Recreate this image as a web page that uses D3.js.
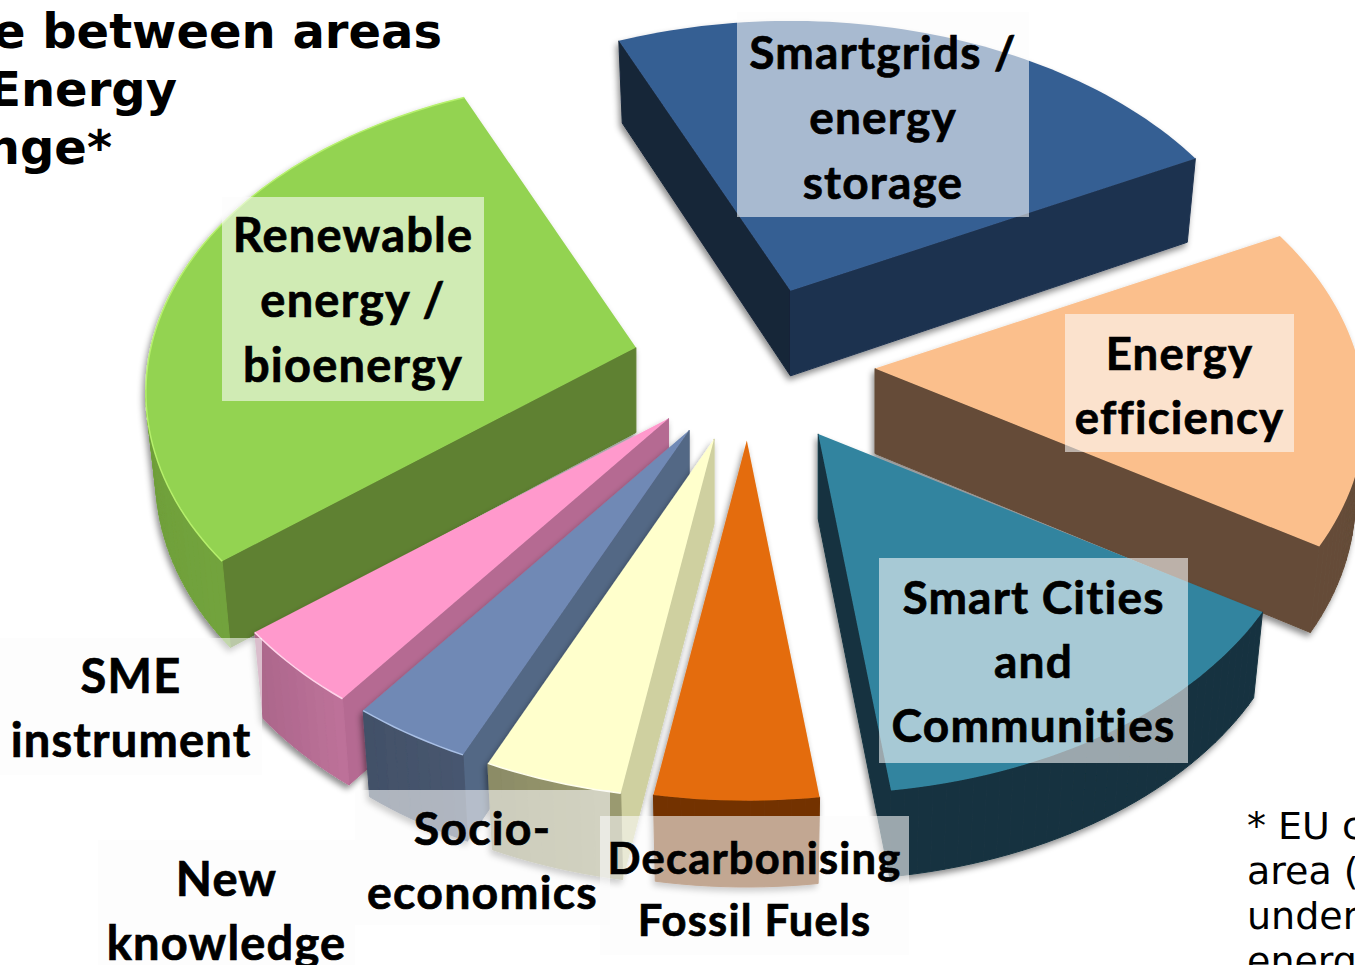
<!DOCTYPE html>
<html>
  <head>
    <meta charset="utf-8">
    <script src="https://d3js.org/d3.v7.min.js"></script>
    <style type="text/css">
      html, body { margin: 0; padding: 0; background: #fff; overflow: hidden; }
      svg { display: block; }
      .lbl { font-family: Lato, sans-serif; font-weight: 700; letter-spacing: 1.2px; fill: #000; stroke: #000; stroke-width: 0.7px; text-anchor: middle; }
      .title { font-family: "DejaVu Sans", sans-serif; font-weight: 700; font-size: 48px; fill: #000; text-anchor: end; }
      .note { font-family: "DejaVu Sans", sans-serif; font-size: 38px; fill: #000; }
    </style>
  </head>
  <body>
    <div class="plot_canvas"></div>
    <script>
      // data, in pie order (clockwise)
      var categories = ["Smartgrids / energy storage", "Energy efficiency", "Smart Cities and Communities",
        "Decarbonising Fossil Fuels", "Socio-economics", "New knowledge", "SME instrument", "Renewable energy / bioenergy"];
      var shares = [24, 16.5, 14, 4.7, 4, 3.5, 4, 29.3];
      var explode = [0.255, 0.26, 0.265, 0.245, 0.25, 0.245, 0.24, 0.24];
      var labelLines = [["Smartgrids /", "energy", "storage"], ["Energy", "efficiency"], ["Smart Cities", "and", "Communities"],
        ["Decarbonising", "Fossil Fuels"], ["Socio-", "economics"], ["New", "knowledge"], ["SME", "instrument"], ["Renewable", "energy /", "bioenergy"]];

      // styles
      var topCol = ["#365f93", "#fbbf8c", "#31849f", "#e46c0a", "#ffffcc", "#7089b5", "#ff99cc", "#93d351"];
      var startWallCol = ["#172639", "#654c38", "#143340", "#733304", "#cfd0a0", "#536785", "#b56b92", "#5f8130"];
      var arcWallCol = ["#1f3350", "#654c38", "#143340", "#733304", "#9a9a70", "#47566f", "#bd7199", "#72a33c"];
      var endWallCol = ["#1f3350", "#654c38", "#143340", "#733304", "#cfd0a0", "#536785", "#b56b92", "#5f8130"];
      var rimCol = [null, null, null, null, "#ffffee", "#a9c0e6", "#ffd4ea", "#b6f06c"];
      var arcDarken = [0, 0, 0, 0, 0.3, 0.2, 0.3, 0.3];
      var labelSize = [46, 45.5, 46, 43.5, 46.5, 47, 47, 47];
      // label boxes: x, y, w, h, first baseline, line step
      var labelBox = [
        [737, 12, 292, 205, 69, 65], [1065, 314, 229, 138, 370, 64], [879, 558, 309, 205, 614, 64],
        [600, 816, 309, 139, 874, 62], [355, 790, 255, 135, 845, 64], [98, 840, 257, 130, 896, 64],
        [0, 638, 262, 137, 693, 64], [222, 197, 262, 204, 252, 65]
      ];
      var drawOrder = [0, 7, 1, 6, 5, 4, 3, 2];

      var width = 1355, height = 965;
      var cx = 749, cy = 365, R = 485, S = 308.6, persp = 0.143, depth = 85;
      var startDeg = -23.6;

      var xScale = d3.scaleLinear().domain([-1, 1]).range([-R, R]);
      var yScale = d3.scaleLinear().domain([-1, 1]).range([-S, S]);

      var pie = d3.pie().sort(null)
        .startAngle(startDeg * Math.PI / 180)
        .endAngle((startDeg + 360) * Math.PI / 180);
      var arcs = pie(shares);

      var svg = d3.select(".plot_canvas").append("svg")
        .attr("width", width).attr("height", height)
        .attr("viewBox", "0 0 " + width + " " + height);

      var filter = svg.append("defs").append("filter").attr("id", "shadow")
        .attr("x", "-10%").attr("y", "-10%").attr("width", "120%").attr("height", "120%");
      filter.append("feDropShadow").attr("dx", -2).attr("dy", 4).attr("stdDeviation", 3)
        .attr("flood-color", "#000").attr("flood-opacity", 0.45);

      var line = d3.line().x(function (d) { return d[0]; }).y(function (d) { return d[1]; });

      // perspective: near edge of the disc is drawn bigger
      function project(a) {
        var X = Math.sin(a), Y = -Math.cos(a), w = 1 - persp * Y;
        return [xScale(X) / w, yScale(Y) / w, Y];
      }

      function slice(i) {
        var d = arcs[i], mid = (d.startAngle + d.endAngle) / 2;
        var apex = [cx + xScale(explode[i] * Math.sin(mid)), cy - yScale(explode[i] * Math.cos(mid))];
        var steps = Math.max(6, Math.round((d.endAngle - d.startAngle) * 40));
        var rim = d3.range(steps + 1).map(function (k) {
          return project(d.startAngle + (d.endAngle - d.startAngle) * k / steps);
        });
        var topPts = rim.map(function (p) { return [apex[0] + p[0], apex[1] + p[1]]; });
        var botPts = rim.map(function (p) {
          return [apex[0] + p[0] * 0.98, apex[1] + p[1] * 0.98 + depth * (1 + 0.1 * p[2])];
        });
        return { apex: apex, top: topPts, bot: botPts, apexBot: [apex[0], apex[1] + depth] };
      }

      drawOrder.forEach(function (i) {
        var s = slice(i);
        var g = svg.append("g").attr("class", "slice").attr("filter", "url(#shadow)");

        // walls, only those turned to the viewer
        function wall(a, b, a2, b2, col) {
          if (b[0] >= a[0]) return;
          g.append("path").attr("d", line([a, b, b2, a2]) + "Z")
            .attr("fill", col).attr("stroke", col).attr("stroke-width", 1);
        }
        wall(s.apex, s.top[0], s.apexBot, s.bot[0], startWallCol[i]);
        var n = s.top.length - 1;
        d3.range(n).forEach(function (k) {
          var col = d3.interpolateRgb(arcWallCol[i], d3.rgb(arcWallCol[i]).darker(arcDarken[i]))(k / n);
          wall(s.top[k], s.top[k + 1], s.bot[k], s.bot[k + 1], col);
        });
        wall(s.top[n], s.apex, s.bot[n], s.apexBot, endWallCol[i]);

        g.append("path").attr("d", line([s.apex].concat(s.top)) + "Z").attr("fill", topCol[i]);
        if (rimCol[i]) {
          g.append("path").attr("d", line(s.top)).attr("fill", "none")
            .attr("stroke", rimCol[i]).attr("stroke-width", 1.5);
        }
      });

      // labels on see-through white boxes
      categories.forEach(function (c, i) {
        var b = labelBox[i];
        svg.append("rect").attr("x", b[0]).attr("y", b[1]).attr("width", b[2]).attr("height", b[3])
          .attr("fill", "#fcfcfc").attr("opacity", 0.58);
      });
      categories.forEach(function (c, i) {
        var b = labelBox[i];
        labelLines[i].forEach(function (t, k) {
          svg.append("text").attr("class", "lbl").style("font-size", labelSize[i] + "px")
            .attr("x", b[0] + b[2] / 2).attr("y", b[4] + k * b[5]).text(t);
        });
      });

      // cropped title and footnote
      var titleLines = ["e between areas", "Energy", "nge*"];
      var titleRight = [442, 177, 112];
      titleLines.forEach(function (t, k) {
        svg.append("text").attr("class", "title").attr("x", titleRight[k]).attr("y", 48 + k * 58).text(t);
      });
      var noteLines = ["* EU c", "area (", "under", "energ"];
      noteLines.forEach(function (t, k) {
        svg.append("text").attr("class", "note").attr("x", 1247).attr("y", 839 + k * 45).text(t);
      });
    </script>
  </body>
</html>
